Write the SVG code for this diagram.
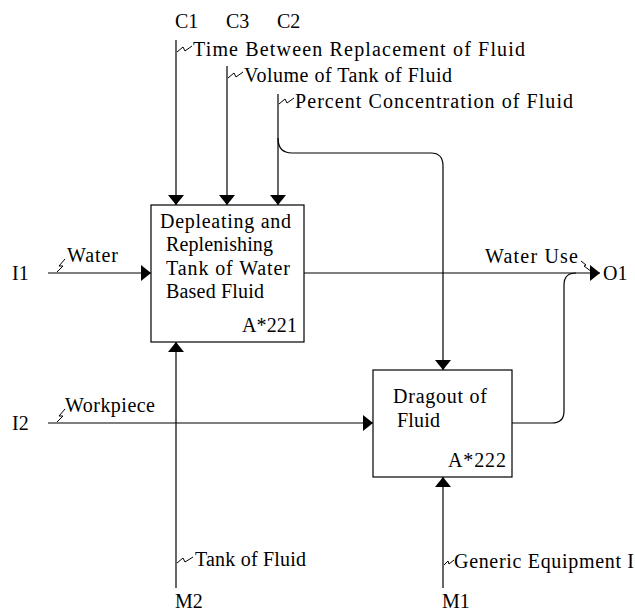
<svg xmlns="http://www.w3.org/2000/svg" width="635" height="611" viewBox="0 0 635 611">
  <style>
    text { font-family: "Liberation Serif", "Times New Roman", serif; font-size: 20px; fill: #000; }
    .box { fill: #fff; stroke: #000; stroke-width: 1.2; }
    .wire { fill: none; stroke: #000; stroke-width: 1.2; }
    .sq { fill: none; stroke: #000; stroke-width: 1; }
  </style>
  <defs>
    <marker id="arrow" viewBox="0 0 10 16" refX="10" refY="8" markerWidth="10" markerHeight="16" markerUnits="userSpaceOnUse" orient="auto">
      <path d="M0,0 L10,8 L0,16 Z" fill="#000"/>
    </marker>
  </defs>

  <!-- connectors -->
  <g id="connectors">
    <!-- controls -->
    <path class="wire" d="M176,40 V205" marker-end="url(#arrow)"/>
    <path class="wire" d="M227,66 V205" marker-end="url(#arrow)"/>
    <path class="wire" d="M278,94 V205" marker-end="url(#arrow)"/>
    <path class="wire" d="M278,138 Q278,153 292,153 H431 Q443,153 443,166 V370" marker-end="url(#arrow)"/>
    <!-- inputs -->
    <path class="wire" d="M48,273 H151" marker-end="url(#arrow)"/>
    <path class="wire" d="M48,423 H373" marker-end="url(#arrow)"/>
    <!-- outputs -->
    <path class="wire" d="M304,273 H600" marker-end="url(#arrow)"/>
    <path class="wire" d="M512,423 H552 Q564,423 564,411 V285 Q564,273 576,273"/>
    <!-- mechanisms -->
    <path class="wire" d="M176,588 V342" marker-end="url(#arrow)"/>
    <path class="wire" d="M443,588 V477" marker-end="url(#arrow)"/>

    <!-- label squiggles -->
    <path class="sq" d="M177,52 L183,47 L185,51 L192,46"/>
    <path class="sq" d="M228,78 L234,73 L236,77 L243,72"/>
    <path class="sq" d="M279,104 L285,99 L287,103 L294,98"/>
    <path class="sq" d="M57,272 L63,266 L59,266 L65,259"/>
    <path class="sq" d="M57,422 L63,416 L59,416 L65,409"/>
    <path class="sq" d="M581,261 L586,265 L584,266 L592,272"/>
    <path class="sq" d="M177,563 L183,558 L185,562 L193,557"/>
    <path class="sq" d="M444,565 L448,561 L449,564 L454,560"/>
  </g>

  <!-- A*221 -->
  <g id="node-a221">
    <rect class="box" x="151" y="205" width="153" height="137"/>
    <text x="160" y="228" textLength="131" lengthAdjust="spacing">Depleating and</text>
    <text x="166" y="251" textLength="107" lengthAdjust="spacing">Replenishing</text>
    <text x="166" y="275" textLength="124" lengthAdjust="spacing">Tank of Water</text>
    <text x="166" y="298" textLength="98" lengthAdjust="spacing">Based Fluid</text>
    <text x="242" y="332" textLength="55" lengthAdjust="spacing">A*221</text>
  </g>

  <!-- A*222 -->
  <g id="node-a222">
    <rect class="box" x="373" y="370" width="139" height="107"/>
    <text x="393" y="403" textLength="94" lengthAdjust="spacing">Dragout of</text>
    <text x="397" y="427" textLength="43" lengthAdjust="spacing">Fluid</text>
    <text x="448" y="467" textLength="58" lengthAdjust="spacing">A*222</text>
  </g>

  <!-- boundary labels -->
  <g id="labels">
    <text x="175" y="28">C1</text>
    <text x="226" y="28">C3</text>
    <text x="277" y="28">C2</text>
    <text x="193" y="56" textLength="332" lengthAdjust="spacing">Time Between Replacement of Fluid</text>
    <text x="244" y="82" textLength="208" lengthAdjust="spacing">Volume of Tank of Fluid</text>
    <text x="295" y="108" textLength="278" lengthAdjust="spacing">Percent Concentration of Fluid</text>
    <text x="12" y="280">I1</text>
    <text x="67" y="262" textLength="51" lengthAdjust="spacing">Water</text>
    <text x="12" y="430">I2</text>
    <text x="65" y="412" textLength="90" lengthAdjust="spacing">Workpiece</text>
    <text x="485" y="263" textLength="93" lengthAdjust="spacing">Water Use</text>
    <text x="603" y="280">O1</text>
    <text x="195" y="566" textLength="111" lengthAdjust="spacing">Tank of Fluid</text>
    <text x="454" y="568" textLength="180" lengthAdjust="spacing">Generic Equipment I</text>
    <text x="175" y="608">M2</text>
    <text x="442" y="608">M1</text>
  </g>
</svg>
